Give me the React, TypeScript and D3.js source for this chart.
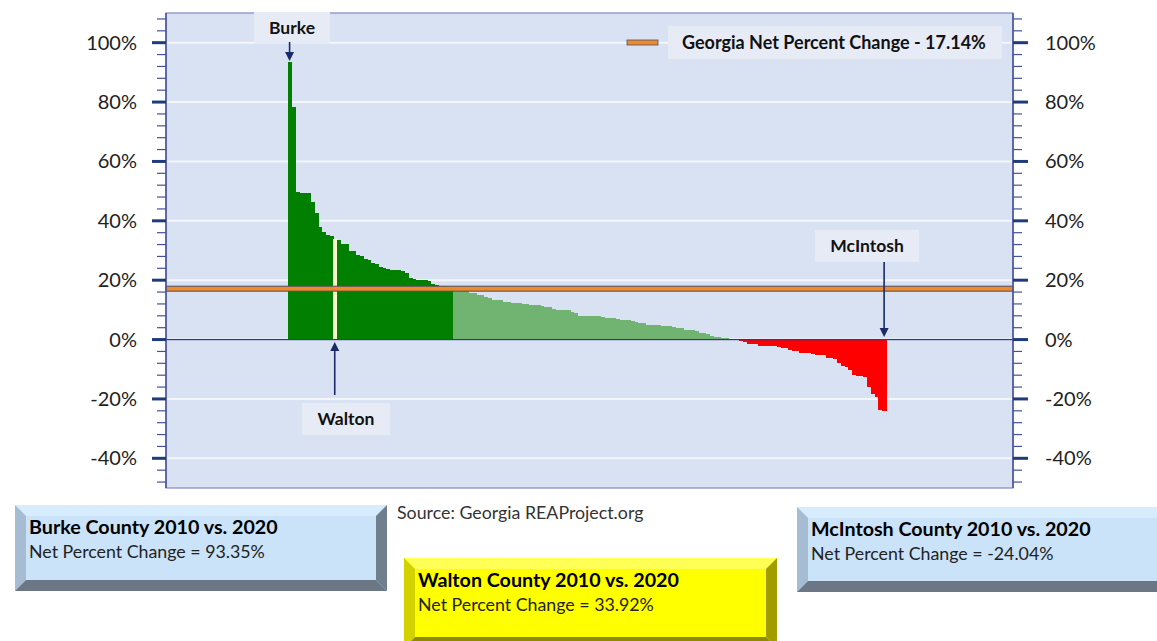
import React from "react";
import * as d3 from "d3";

// Net percent change 2010 vs. 2020, Georgia counties sorted descending
const values: number[] = [
  93.35, 78.5, 49.6, 49.5, 49.5, 49.3, 46.2, 42.5, 38.0, 36.3, 35.2, 34.8, 33.92, 33.5, 32.3, 32.1,
  30.0, 29.7, 28.6, 28.3, 27.1, 26.8, 25.9, 25.6, 24.3, 24.1, 23.8, 23.6, 23.5, 23.4, 23.0, 22.5,
  20.8, 20.5, 20.2, 20.0, 19.9, 19.7, 18.7, 18.5, 18.2, 18.0, 17.8, 17.5,
  17.1, 16.9, 16.7, 16.4, 15.8, 15.6, 15.1, 15.0, 14.3, 14.1, 13.4, 13.3, 13.2, 12.7, 12.6,
  12.3, 12.2, 12.2, 12.1, 12.0, 11.8, 11.7, 11.6, 11.2, 11.1, 11.0, 10.2, 10.1, 10.0, 9.9, 9.8,
  9.2, 9.1, 8.1, 8.0, 8.0, 7.9, 7.8, 7.8, 7.7, 7.3, 7.2, 7.1, 7.0, 6.7, 6.6, 6.5, 6.4,
  5.8, 5.7, 5.6, 5.0, 4.9, 4.9, 4.8, 4.7, 4.6, 4.5, 4.1, 4.0, 3.9, 3.3, 3.2, 3.1, 3.0,
  2.2, 2.1, 2.0, 1.2, 1.0, 0.9, 0.5, 0.4, 0.3, 0.2, 0.1,
  -0.5, -0.8, -1.4, -1.5, -1.6, -2.0, -2.1, -2.2, -2.2, -2.3, -2.4, -2.9, -3.0,
  -3.6, -3.7, -3.8, -4.5, -4.6, -4.6, -4.7, -5.1, -5.2, -5.3, -6.2, -6.3, -6.5,
  -7.8, -9.0, -9.2, -10.2, -12.1, -12.2, -12.4, -12.6, -15.9, -18.3, -19.4, -23.8, -24.04,
];
const ranks: number[] = values.map((_, i) => i);
const stateValue = 17.14;
const majorTicks: number[] = [-40, -20, 0, 20, 40, 60, 80, 100];
const minorTicks: number[] = d3.range(-48, 110, 4);
const calloutNames: string[] = ["Burke", "Walton", "McIntosh"];
const calloutRanks: number[] = [0, 12, 158];
const calloutValues: string[] = ["93.35%", "33.92%", "-24.04%"];

const W = 1157;
const H = 641;
const plot = { left: 166, right: 1013, top: 13, bottom: 488 };
const FONT = "Lato, 'Open Sans', sans-serif";
const NAVY = "#1f3b7a";

const y = d3.scaleLinear().domain([-50, 110]).range([plot.bottom, plot.top]);
const x = d3.scaleBand<number>().domain(ranks).range([287.7, 886]).paddingInner(0).paddingOuter(0);

function barColor(v: number, i: number) {
  if (i === calloutRanks[1]) return "#fbf8cf";
  if (v > stateValue) return "#007f00";
  if (v >= 0) return "#71b471";
  return "#ff0000";
}

function Arrow({ x0, y0, y1 }: { x0: number; y0: number; y1: number }) {
  const dir = y1 > y0 ? 1 : -1;
  const tip = y1;
  const base = y1 - dir * 9;
  return (
    <g>
      <line x1={x0} x2={x0} y1={y0} y2={base} stroke="#1a2a6a" strokeWidth={1.6} />
      <path d={`M${x0 - 4.5},${base} L${x0 + 4.5},${base} L${x0},${tip} Z`} fill="#1a2a6a" />
    </g>
  );
}

function LabelBox({ cx, cy, w, text }: { cx: number; cy: number; w: number; text: string }) {
  return (
    <g>
      <rect x={cx - w / 2} y={cy - 16} width={w} height={32} fill="#e7ebf6" />
      <text x={cx} y={cy + 6} textAnchor="middle" fontFamily={FONT} fontWeight={700} fontSize={17.5} fill="#111">
        {text}
      </text>
    </g>
  );
}

function BevelBox({
  x0, y0, w, h, face, top, left, right, bottom, title, sub, showRight = true,
}: any) {
  const b = 11;
  const x1 = x0 + w;
  const y1 = y0 + h;
  return (
    <g>
      <rect x={x0} y={y0} width={w} height={h} fill={face} />
      <path d={`M${x0},${y0} L${x1},${y0} L${x1 - b},${y0 + b} L${x0 + b},${y0 + b} Z`} fill={top} />
      <path d={`M${x0},${y0} L${x0 + b},${y0 + b} L${x0 + b},${y1 - b} L${x0},${y1} Z`} fill={left} />
      {showRight && (
        <path d={`M${x1},${y0} L${x1},${y1} L${x1 - b},${y1 - b} L${x1 - b},${y0 + b} Z`} fill={right} />
      )}
      <path d={`M${x0},${y1} L${x0 + b},${y1 - b} L${x1 - (showRight ? b : 0)},${y1 - b} L${x1},${y1} Z`} fill={bottom} />
      <text x={x0 + 14} y={y0 + 29} fontFamily={FONT} fontWeight={700} fontSize={19.7} fill="#000">
        {title}
      </text>
      <text x={x0 + 14} y={y0 + 53} fontFamily={FONT} fontSize={17.8} fill="#222">
        {sub}
      </text>
    </g>
  );
}

export default function App() {
  const ys = y(stateValue);
  const xc = (i: number) => (x(i) as number) + x.bandwidth() / 2;
  return (
    <svg width={W} height={H} style={{ position: "absolute", left: 0, top: 0, background: "#fff" }}>
      {/* plot background */}
      <rect x={plot.left} y={plot.top} width={plot.right - plot.left} height={plot.bottom - plot.top} fill="#d9e2f3" />
      {/* gridlines */}
      {majorTicks.map((t) => (
        <line key={t} x1={plot.left} x2={plot.right} y1={y(t)} y2={y(t)} stroke="#f4f6fb" strokeWidth={2} />
      ))}
      {/* bars */}
      <g shapeRendering="crispEdges">
        {values.map((v, i) => (
          <rect
            key={i}
            x={x(i) as number}
            width={x.bandwidth() + 0.8}
            y={Math.min(y(v), y(0))}
            height={Math.abs(y(v) - y(0))}
            fill={barColor(v, i)}
          />
        ))}
        {/* redraw highlighted bar on top so neighbours don't cover it */}
        <rect
          x={(x(calloutRanks[1]) as number) + 0.5}
          width={x.bandwidth() - 0.5}
          y={y(values[calloutRanks[1]])}
          height={y(0) - y(values[calloutRanks[1]])}
          fill="#fbf8cf"
        />
      </g>
      {/* zero line */}
      <line x1={plot.left} x2={plot.right} y1={y(0)} y2={y(0)} stroke="#2b3a8f" strokeWidth={1.3} />
      {/* state line */}
      <rect x={plot.left} y={ys - 2.5} width={plot.right - plot.left} height={5} fill="#ee8a27" stroke="#4a4f6e" strokeWidth={1} />
      {/* frame */}
      <rect x={plot.left} y={plot.top} width={plot.right - plot.left} height={plot.bottom - plot.top} fill="none" stroke="#6e72b8" strokeWidth={1} />
      {/* axes */}
      <line x1={plot.left} x2={plot.left} y1={plot.top} y2={plot.bottom} stroke="#44519a" strokeWidth={1.5} />
      <line x1={plot.right} x2={plot.right} y1={plot.top} y2={plot.bottom} stroke="#44519a" strokeWidth={1.5} />
      {minorTicks.map((t) => (
        <g key={"m" + t}>
          <line x1={plot.left - 9} x2={plot.left} y1={y(t)} y2={y(t)} stroke="#44519a" strokeWidth={1.2} />
          <line x1={plot.right} x2={plot.right + 9} y1={y(t)} y2={y(t)} stroke="#44519a" strokeWidth={1.2} />
        </g>
      ))}
      {majorTicks.map((t) => (
        <g key={"M" + t}>
          <line x1={plot.left - 14} x2={plot.left} y1={y(t)} y2={y(t)} stroke={NAVY} strokeWidth={3} />
          <line x1={plot.right} x2={plot.right + 15} y1={y(t)} y2={y(t)} stroke={NAVY} strokeWidth={3} />
          <text x={137} y={y(t) + 7} textAnchor="end" fontFamily={FONT} fontSize={20} fill="#222">
            {t + "%"}
          </text>
          <text x={1045} y={y(t) + 7} textAnchor="start" fontFamily={FONT} fontSize={20} fill="#222">
            {t + "%"}
          </text>
        </g>
      ))}
      {/* legend */}
      <rect x={627} y={40} width={31} height={5} fill="#ee8a27" stroke="#4a4f6e" strokeWidth={0.8} />
      <rect x={668} y={26} width={334} height={33} fill="#e7ebf6" />
      <text x={682} y={49} fontFamily={FONT} fontWeight={700} fontSize={18} fill="#111">
        Georgia Net Percent Change - 17.14%
      </text>
      {/* callouts */}
      <LabelBox cx={292} cy={28} w={76} text={calloutNames[0]} />
      <Arrow x0={xc(calloutRanks[0])} y0={42} y1={61} />
      <LabelBox cx={346} cy={419} w={88} text={calloutNames[1]} />
      <Arrow x0={xc(calloutRanks[1])} y0={395} y1={342} />
      <LabelBox cx={867} cy={246} w={104} text={calloutNames[2]} />
      <Arrow x0={xc(calloutRanks[2])} y0={262} y1={337} />
      {/* source */}
      <text x={397} y={519} fontFamily={FONT} fontSize={17.8} fill="#333">
        Source: Georgia REAProject.org
      </text>
      <BevelBox
        x0={15} y0={505} w={372} h={86}
        face="#cbe3f8" top="#d7ecfd" left="#a6bcd2" right="#707f8e" bottom="#6b7785"
        title={`${calloutNames[0]} County 2010 vs. 2020`}
        sub={`Net Percent Change = ${calloutValues[0]}`}
      />
      <BevelBox
        x0={404} y0={558} w={373} h={90}
        face="#ffff00" top="#ffff55" left="#d2d200" right="#a19c00" bottom="#8c8a00"
        title={`${calloutNames[1]} County 2010 vs. 2020`}
        sub={`Net Percent Change = ${calloutValues[1]}`}
      />
      <BevelBox
        x0={797} y0={507} w={370} h={85} showRight={false}
        face="#cbe3f8" top="#d7ecfd" left="#a6bcd2" right="#707f8e" bottom="#6b7785"
        title={`${calloutNames[2]} County 2010 vs. 2020`}
        sub={`Net Percent Change = ${calloutValues[2]}`}
      />
    </svg>
  );
}
